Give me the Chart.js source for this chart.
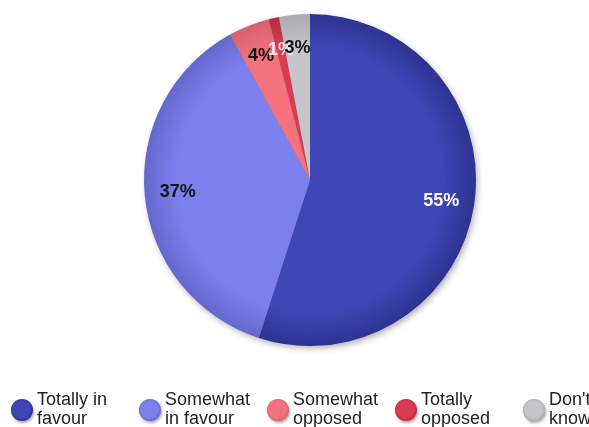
<!DOCTYPE html>
<html>
<head>
<meta charset="utf-8">
<script src="https://cdn.jsdelivr.net/npm/chart.js@4/dist/chart.umd.min.js"></script>
<style>
html,body{margin:0;padding:0;background:#fff;}
#wrap{position:relative;width:589px;height:427px;}
</style>
</head>
<body>
<div id="wrap"><canvas id="c" width="589" height="427"></canvas></div>
<script>
// ---- data ----
const categories = [["Totally in","favour"],["Somewhat","in favour"],["Somewhat","opposed"],["Totally","opposed"],["Don't","know"]];
const values = [55, 37, 4, 1, 3];
const valueLabels = ["55%","37%","4%","1%","3%"];

// ---- styles ----
const baseColors = ["#3f46b6","#7c80ef","#f4727f","#dc3a51","#c6c6ca"];
const edgeColors = ["#2d3390","#6468cc","#d8606e","#b82c40","#a9a9ae"];
const labelColors = ["#ffffff","#141414","#141414","rgba(255,255,255,0.85)","#141414"];

function sliceFill(ctx){
  const chart = ctx.chart;
  const i = ctx.dataIndex;
  const a = chart.chartArea;
  if(!a) return baseColors[i];
  const cx=(a.left+a.right)/2, cy=(a.top+a.bottom)/2;
  const R=Math.min(a.right-a.left,a.bottom-a.top)/2;
  const g=chart.ctx.createRadialGradient(cx,cy,0,cx,cy,R);
  g.addColorStop(0,baseColors[i]);
  g.addColorStop(0.8,baseColors[i]);
  g.addColorStop(1,edgeColors[i]);
  return g;
}

const shadowPlugin = {
  id:'shadow',
  beforeDatasetsDraw(chart){
    const arc=chart.getDatasetMeta(0).data[0];
    if(!arc) return;
    const ctx=chart.ctx;
    ctx.save();
    ctx.shadowColor='rgba(0,0,0,0.35)';
    ctx.shadowBlur=7;
    ctx.shadowOffsetX=2;
    ctx.shadowOffsetY=3;
    ctx.fillStyle='#777';
    ctx.beginPath();
    ctx.arc(arc.x,arc.y,arc.outerRadius-1,0,Math.PI*2);
    ctx.fill();
    ctx.restore();
  }
};

const labelPlugin = {
  id:'sliceLabels',
  afterDatasetsDraw(chart){
    const ctx=chart.ctx;
    const meta=chart.getDatasetMeta(0);
    ctx.save();
    ctx.font='bold 18px "Liberation Sans", Arial, sans-serif';
    ctx.textAlign='center';
    ctx.textBaseline='middle';
    meta.data.forEach((arc,i)=>{
      const p=arc.getProps(['x','y','startAngle','endAngle','outerRadius'],true);
      const mid=(p.startAngle+p.endAngle)/2;
      const r=p.outerRadius*0.8;
      ctx.fillStyle=labelColors[i];
      ctx.fillText(chart.data.datasets[0].valueLabels[i], p.x+Math.cos(mid)*r, p.y+Math.sin(mid)*r);
    });
    ctx.restore();
  }
};

const legendPlugin = {
  id:'bottomLegend',
  afterDraw(chart){
    const ctx=chart.ctx;
    const labels=chart.data.labels;
    ctx.save();
    ctx.font='18px "Liberation Sans", Arial, sans-serif';
    ctx.textAlign='left';
    ctx.textBaseline='alphabetic';
    labels.forEach((lines,i)=>{
      const cx=22+i*128, cy=410;
      const g=ctx.createRadialGradient(cx-3,cy-3,1,cx,cy,11);
      g.addColorStop(0,baseColors[i]);
      g.addColorStop(0.75,baseColors[i]);
      g.addColorStop(1,edgeColors[i]);
      ctx.save();
      ctx.shadowColor='rgba(0,0,0,0.35)';
      ctx.shadowBlur=3;
      ctx.shadowOffsetX=1;
      ctx.shadowOffsetY=2;
      ctx.fillStyle=g;
      ctx.beginPath();
      ctx.arc(cx,cy,11,0,Math.PI*2);
      ctx.fill();
      ctx.restore();
      ctx.fillStyle='#222';
      lines.forEach((t,k)=>{
        ctx.fillText(t,cx+15,405+k*19);
      });
    });
    ctx.restore();
  }
};

new Chart(document.getElementById('c'),{
  type:'pie',
  data:{
    labels:categories,
    datasets:[{
      data:values,
      valueLabels:valueLabels,
      backgroundColor:sliceFill,
      borderWidth:0
    }]
  },
  options:{
    responsive:false,
    animation:false,
    layout:{padding:{left:144,right:113,top:14,bottom:81}},
    plugins:{legend:{display:false},tooltip:{enabled:false}}
  },
  plugins:[shadowPlugin,labelPlugin,legendPlugin]
});
</script>
</body>
</html>
